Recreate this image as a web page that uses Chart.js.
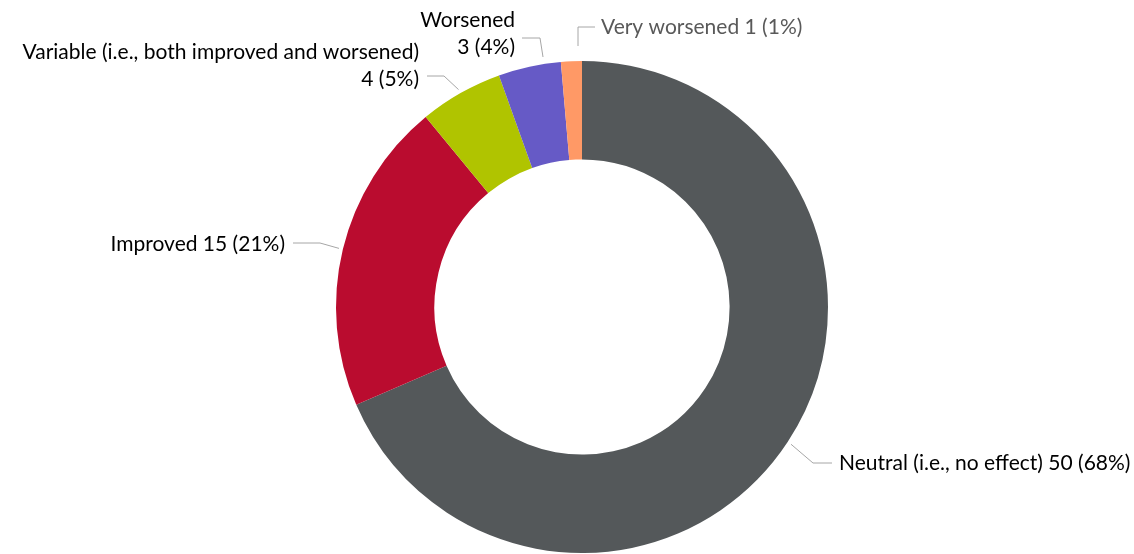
<!DOCTYPE html>
<html lang="en">
<head>
    <meta charset="UTF-8">
    <title>Effect</title>
    <script src="https://cdn.jsdelivr.net/npm/chart.js"></script>
    <style>
        body { margin: 0; background: #fff; }
        #wrap { width: 1134px; height: 554px; }
    </style>
</head>
<body>
<div id="wrap"><canvas id="donut"></canvas></div>
<script>
    // data
    const categories = ["Neutral (i.e., no effect)", "Improved", "Variable (i.e., both improved and worsened)", "Worsened", "Very worsened"];
    const counts = [50, 15, 4, 3, 1];
    const percents = ["68%", "21%", "5%", "4%", "1%"];
    const colors = ["#54585a", "#ba0c2f", "#b0c400", "#665ac6", "#ff9966"];

    // label layout relative to chart centre (elbow, line end, text anchor, align, lines)
    const labelLayout = [
        { elbow: [231, 156], end: [250, 156], text: [257, 156], align: "left", lines: [categories[0] + " " + counts[0] + " (" + percents[0] + ")"], color: "#000" },
        { elbow: [-262, -64], end: [-289, -64], text: [-297, -63], align: "right", lines: [categories[1] + " " + counts[1] + " (" + percents[1] + ")"], color: "#000" },
        { elbow: [-138, -231], end: [-155, -231], text: [-163, -255], align: "right", lines: [categories[2], counts[2] + " (" + percents[2] + ")"], color: "#000" },
        { elbow: [-42, -269], end: [-60, -269], text: [-67, -287], align: "right", lines: [categories[3], counts[3] + " (" + percents[3] + ")"], color: "#000" },
        { elbow: [-4, -280], end: [13, -280], text: [19, -280], align: "left", lines: [categories[4] + " " + counts[4] + " (" + percents[4] + ")"], color: "#595959" }
    ];

    const leaderPlugin = {
        id: "leaders",
        afterDraw(chart) {
            const ctx = chart.ctx;
            const meta = chart.getDatasetMeta(0);
            ctx.save();
            ctx.font = "21px Lato, 'Open Sans', sans-serif";
            ctx.textBaseline = "middle";
            meta.data.forEach((arc, i) => {
                const lay = labelLayout[i];
                const cx = arc.x, cy = arc.y;
                const mid = (arc.startAngle + arc.endAngle) / 2;
                const r = arc.outerRadius + 4;
                let sx = cx + Math.cos(mid) * r;
                let sy = cy + Math.sin(mid) * r;
                if (i === 4) { sx = cx + lay.elbow[0]; sy = cy - arc.outerRadius - 15; }
                if (i === 3) { sy = cy - arc.outerRadius - 4; sx = cx + lay.elbow[0] + 3; }
                ctx.strokeStyle = "#a6a6a6";
                ctx.lineWidth = 1;
                ctx.beginPath();
                ctx.moveTo(sx, sy);
                ctx.lineTo(cx + lay.elbow[0], cy + lay.elbow[1]);
                ctx.lineTo(cx + lay.end[0], cy + lay.end[1]);
                ctx.stroke();
                ctx.fillStyle = lay.color;
                ctx.textAlign = lay.align;
                lay.lines.forEach((t, k) => {
                    ctx.fillText(t, cx + lay.text[0], cy + lay.text[1] + k * 27);
                });
            });
            ctx.restore();
        }
    };

    new Chart(document.getElementById("donut"), {
        type: "doughnut",
        data: {
            labels: categories,
            datasets: [{
                data: counts,
                backgroundColor: colors,
                borderWidth: 0
            }]
        },
        options: {
            responsive: true,
            maintainAspectRatio: false,
            animation: false,
            cutout: "60%",
            layout: { padding: { top: 61, bottom: 1, left: 30, right: 0 } },
            plugins: {
                legend: { display: false },
                tooltip: { enabled: false }
            }
        },
        plugins: [leaderPlugin]
    });
</script>
</body>
</html>
